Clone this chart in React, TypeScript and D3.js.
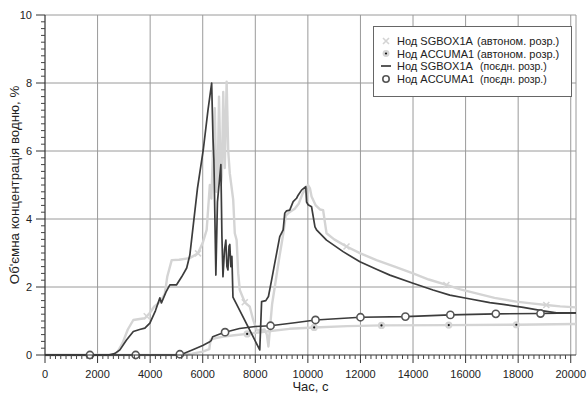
import React from "react";
import * as d3 from "d3";

// Time series, [time (s), hydrogen volume fraction (%)]
const sgboxAutonomous: [number, number][] = [
  [0, 0], [2550, 0], [2750, 0.08], [2950, 0.35], [3150, 0.75], [3360, 1.03], [3600, 1.06],
  [3800, 1.08], [4000, 1.25], [4150, 1.42], [4300, 1.52], [4430, 1.62], [4560, 1.81],
  [4650, 2.3], [4820, 2.79], [5100, 2.8], [5500, 2.85], [5820, 2.99], [6000, 3.3],
  [6150, 3.68], [6270, 5.0], [6330, 4.6], [6400, 6.2], [6460, 7.26], [6520, 4.8],
  [6570, 5.2], [6620, 7.6], [6690, 5.0], [6730, 5.3], [6780, 7.74], [6840, 5.5],
  [6910, 8.04], [6970, 6.0], [7030, 5.34], [7160, 4.56], [7220, 3.58], [7290, 3.38],
  [7350, 2.4], [7410, 1.91], [7600, 1.55], [7790, 1.42], [7920, 1.03], [8050, 0.74],
  [8200, 0.72], [8350, 0.75], [8440, 0.6], [8500, 0.25], [8560, 0.8], [8640, 1.5],
  [8780, 2.2], [8920, 2.9], [9050, 3.5], [9160, 4.1], [9300, 4.2], [9500, 4.3],
  [9650, 4.45], [9800, 4.75], [10000, 5.0], [10080, 4.9], [10140, 4.66], [10300, 4.4],
  [10460, 4.28], [10580, 4.26], [10710, 3.58], [11000, 3.4], [11470, 3.19], [12000, 2.99],
  [12610, 2.79], [13300, 2.6], [14000, 2.4], [14600, 2.22], [15270, 2.06], [15800, 1.93],
  [16410, 1.81], [17100, 1.68], [17930, 1.57], [18500, 1.52], [19070, 1.47], [19600, 1.43],
  [20200, 1.4],
];

const accumaAutonomous: [number, number][] = [
  [0, 0], [5200, 0], [5600, 0.04], [6000, 0.1], [6250, 0.17], [6300, 0.45], [6500, 0.5],
  [6800, 0.54], [7200, 0.58], [7690, 0.62], [8500, 0.7], [9300, 0.77], [10240, 0.81],
  [11500, 0.85], [12800, 0.87], [15360, 0.88], [17930, 0.89], [20200, 0.91],
];

const sgboxCombined: [number, number][] = [
  [0, 0], [2400, 0], [2650, 0.04], [2850, 0.15], [3100, 0.44], [3360, 0.69], [3600, 0.75],
  [3800, 0.79], [3990, 0.94], [4200, 1.3], [4370, 1.68], [4430, 1.53], [4600, 1.85],
  [4750, 2.06], [5000, 2.06], [5200, 2.3], [5390, 2.56], [5510, 2.94], [5800, 4.9],
  [6020, 6.03], [6200, 7.2], [6340, 8.0], [6390, 6.4], [6425, 5.75], [6500, 2.35],
  [6560, 4.5], [6690, 5.6], [6730, 3.5], [6770, 2.3], [6830, 3.1], [6880, 3.38],
  [6920, 2.6], [6960, 2.5], [7000, 3.2], [7030, 3.25], [7070, 2.6], [7110, 2.9],
  [7150, 1.7], [8170, 0.15], [8240, 1.57], [8400, 1.6], [8500, 1.72], [8620, 2.2],
  [8740, 2.7], [8930, 3.48], [9060, 3.68], [9120, 4.17], [9190, 4.24], [9310, 4.26],
  [9440, 4.51], [9570, 4.61], [9630, 4.7], [9760, 4.85], [9920, 4.95], [9950, 4.5],
  [10010, 4.42], [10140, 4.36], [10270, 3.77], [10330, 3.68], [10710, 3.38], [11340, 3.04],
  [11980, 2.74], [12610, 2.52], [13120, 2.35], [14000, 2.11], [14760, 1.91], [15400, 1.76],
  [16030, 1.67], [16920, 1.54], [17430, 1.49], [18190, 1.4], [18950, 1.3], [19460, 1.24],
  [20200, 1.24],
];

const accumaCombined: [number, number][] = [
  [0, 0], [5000, 0], [5300, 0.05], [5600, 0.15], [6000, 0.28], [6250, 0.38], [6320, 0.42],
  [6380, 0.54], [6600, 0.6], [6850, 0.67], [7400, 0.78], [8000, 0.84], [8580, 0.86],
  [9500, 0.95], [10290, 1.03], [12000, 1.11], [13710, 1.13], [15420, 1.18], [17150, 1.21],
  [18850, 1.22], [20200, 1.24],
];

// Marker times along each series
const sgboxAutonomousMarks = [3870, 5820, 7600, 11470, 15270, 19070];
const accumaAutonomousMarks = [7690, 10240, 12800, 15360, 17930];
const accumaCombinedMarks = [1710, 3450, 5130, 6850, 8580, 10290, 12000, 13710, 15420, 17150, 18850];

const xTicks = [0, 2000, 4000, 6000, 8000, 10000, 12000, 14000, 16000, 18000, 20000];
const yTicks = [0, 2, 4, 6, 8, 10];

const legendLabels = [
  ["Нод SGBOX1A", "(автоном. розр.)"],
  ["Нод ACCUMA1", "(автоном. розр.)"],
  ["Нод SGBOX1A", "(поєдн. розр.)"],
  ["Нод ACCUMA1", "(поєдн. розр.)"],
];

const W = 588;
const H = 398;
const left = 45;
const right = 576;
const top = 15;
const bottom = 355;

const LIGHT = "#d4d4d4";
const DARK = "#3c3c3c";
const GRID = "#9a9a9a";
const FONT = "Arial, 'Liberation Sans', sans-serif";

function valueAt(series: [number, number][], t: number): number {
  const i = d3.bisector((d: [number, number]) => d[0]).left(series, t);
  if (i <= 0) return series[0][1];
  if (i >= series.length) return series[series.length - 1][1];
  const [t0, v0] = series[i - 1];
  const [t1, v1] = series[i];
  return v0 + ((t - t0) / (t1 - t0)) * (v1 - v0);
}

export default function App() {
  const x = d3.scaleLinear().domain([0, 20200]).range([left, right]);
  const y = d3.scaleLinear().domain([0, 10]).range([bottom, top]);
  const line = d3
    .line<[number, number]>()
    .x((d) => x(d[0]))
    .y((d) => y(d[1]));

  const xMinor = d3.range(0, 20001, 200).filter((t) => t % 2000 !== 0);
  const yMinor = d3.range(0, 10.001, 0.2).filter((v) => Math.abs(v / 2 - Math.round(v / 2)) > 1e-6);

  const cross = (cx: number, cy: number, k: number) => {
    const s = 3;
    return (
      <path
        key={k}
        d={`M${cx - s},${cy - s}L${cx + s},${cy + s}M${cx - s},${cy + s}L${cx + s},${cy - s}`}
        stroke={LIGHT}
        strokeWidth={1.6}
      />
    );
  };

  const lx = 386;
  const rowY = [41, 53.5, 66, 79];

  return (
    <svg width={W} height={H} style={{ position: "absolute", left: 0, top: 0, background: "#fff" }} fontFamily={FONT}>
      <defs>
        <clipPath id="plot">
          <rect x={left} y={top - 2} width={right - left + 1} height={bottom - top + 4} />
        </clipPath>
      </defs>

      {/* grid */}
      {xTicks.slice(1).map((t) => (
        <line key={"gx" + t} x1={x(t)} x2={x(t)} y1={top} y2={bottom} stroke={GRID} strokeWidth={1} />
      ))}
      {yTicks.slice(1).map((v) => (
        <line key={"gy" + v} x1={left} x2={right} y1={y(v)} y2={y(v)} stroke={GRID} strokeWidth={1} />
      ))}
      <line x1={right} x2={right} y1={top} y2={bottom} stroke={GRID} strokeWidth={1} />

      {/* autonomous runs */}
      <g clipPath="url(#plot)" fill="none" strokeLinejoin="round">
        <path d={line(accumaAutonomous) ?? ""} stroke={LIGHT} strokeWidth={2.4} />
        <path d={line(sgboxAutonomous) ?? ""} stroke={LIGHT} strokeWidth={2.4} />
      </g>
      {sgboxAutonomousMarks.map((t, i) => cross(x(t), y(valueAt(sgboxAutonomous, t)), i))}
      {accumaAutonomousMarks.map((t) => (
        <g key={"am" + t}>
          <circle cx={x(t)} cy={y(valueAt(accumaAutonomous, t))} r={3.6} fill={LIGHT} />
          <circle cx={x(t)} cy={y(valueAt(accumaAutonomous, t))} r={1.1} fill="#111" />
        </g>
      ))}

      {/* combined runs */}
      <g clipPath="url(#plot)" fill="none" strokeLinejoin="round">
        <path d={line(accumaCombined) ?? ""} stroke={DARK} strokeWidth={1.6} />
        <path d={line(sgboxCombined) ?? ""} stroke={DARK} strokeWidth={1.7} />
      </g>
      {accumaCombinedMarks.map((t) => (
        <circle
          key={"cm" + t}
          cx={x(t)}
          cy={y(valueAt(accumaCombined, t))}
          r={3.6}
          fill="#fff"
          stroke="#555"
          strokeWidth={1.6}
        />
      ))}

      {/* axes */}
      <line x1={left} x2={right} y1={bottom} y2={bottom} stroke="#333" strokeWidth={1.2} />
      <line x1={left} x2={left} y1={top} y2={bottom} stroke="#333" strokeWidth={1.2} />
      {xMinor.map((t) => (
        <line key={"xm" + t} x1={x(t)} x2={x(t)} y1={bottom} y2={bottom + 4} stroke="#444" strokeWidth={1} />
      ))}
      {xTicks.map((t) => (
        <g key={"xt" + t}>
          <line x1={x(t)} x2={x(t)} y1={bottom} y2={bottom + 8} stroke="#333" strokeWidth={1} />
          <text x={x(t)} y={378} textAnchor="middle" fontSize={11} fill="#222">
            {t}
          </text>
        </g>
      ))}
      {yMinor.map((v) => (
        <line key={"ym" + v} x1={left - 4} x2={left} y1={y(v)} y2={y(v)} stroke="#444" strokeWidth={1} />
      ))}
      {yTicks.map((v) => (
        <g key={"yt" + v}>
          <line x1={left - 9} x2={left} y1={y(v)} y2={y(v)} stroke="#333" strokeWidth={1} />
          <text x={32} y={y(v) + 4} textAnchor="end" fontSize={11} fill="#222">
            {v}
          </text>
        </g>
      ))}

      <text x={(left + right) / 2} y={391} textAnchor="middle" fontSize={13} fill="#222">
        Час, с
      </text>
      <text
        transform={`translate(19, ${(top + bottom) / 2}) rotate(-90)`}
        textAnchor="middle"
        fontSize={13.3}
        fill="#222"
      >
        Об'ємна концентрація водню, %
      </text>

      {/* legend */}
      <rect x={373.5} y={26.5} width={198} height={70} fill="#fff" stroke="#666" strokeWidth={1} />
      {cross(lx, rowY[0], 100)}
      <circle cx={lx} cy={rowY[1]} r={3.4} fill={LIGHT} />
      <circle cx={lx} cy={rowY[1]} r={1.1} fill="#111" />
      <line x1={lx - 5} x2={lx + 5} y1={rowY[2]} y2={rowY[2]} stroke={DARK} strokeWidth={1.7} />
      <circle cx={lx} cy={rowY[3]} r={3.2} fill="#fff" stroke="#555" strokeWidth={1.6} />
      {legendLabels.map(([a, b], i) => (
        <g key={"lg" + i} fontSize={11} fill="#222">
          <text x={397} y={rowY[i] + 4}>{a}</text>
          <text x={i < 2 ? 477 : 480} y={rowY[i] + 4} fontSize={i < 2 ? 11 : 10.5}>
            {b}
          </text>
        </g>
      ))}
    </svg>
  );
}
